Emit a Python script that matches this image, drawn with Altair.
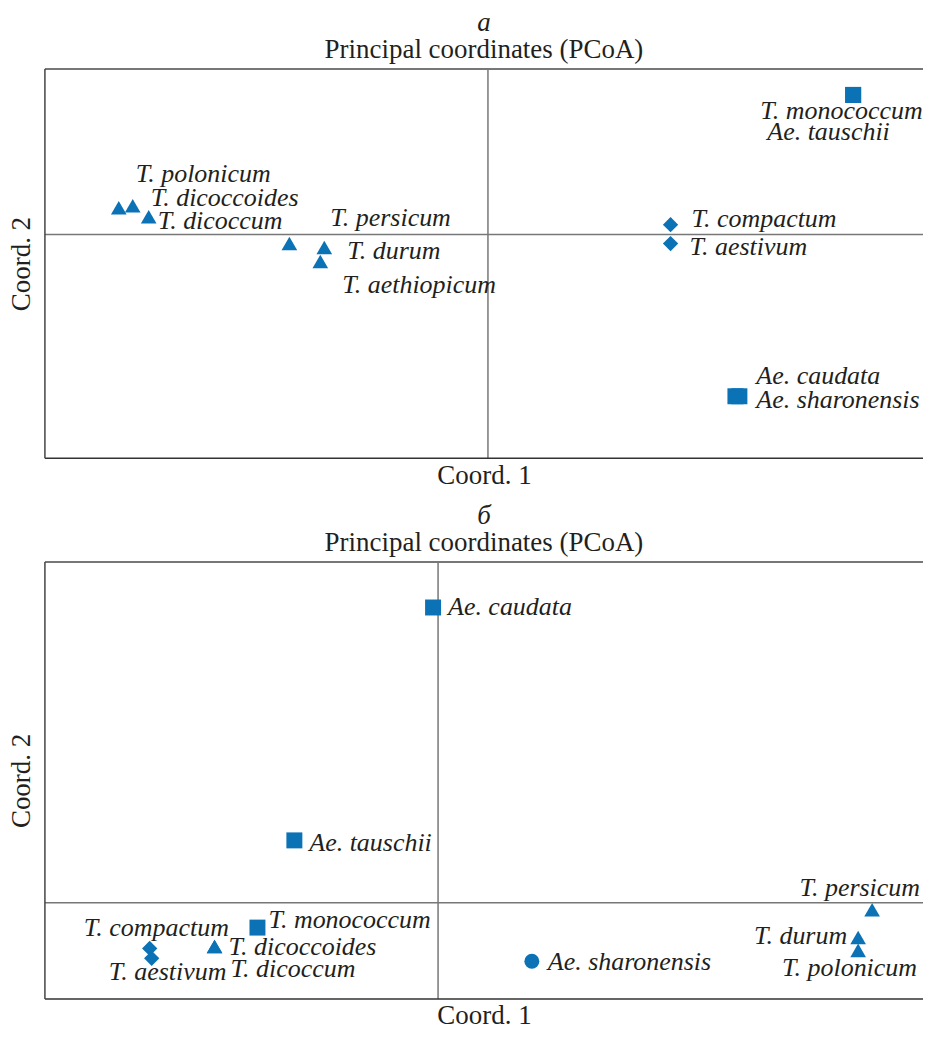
import altair as alt
import pandas as pd

BLUE = "#0b72b5"
TEXT = "#231f20"
FONT = "Liberation Serif"

# ---------------- Panel а ----------------
a_names = ["T. monococcum", "Ae. tauschii", "T. polonicum", "T. dicoccoides", "T. dicoccum",
           "T. persicum", "T. durum", "T. aethiopicum", "T. compactum", "T. aestivum",
           "Ae. caudata", "Ae. sharonensis"]
a_x = [0.366, 0.366, -0.370, -0.356, -0.340, -0.199, -0.164, -0.168, 0.183, 0.183, 0.248, 0.252]
a_y = [0.140, 0.140, 0.027, 0.029, 0.018, -0.009, -0.013, -0.027, 0.010, -0.009, -0.162, -0.162]
a_shape = ["square", "square", "triangle", "triangle", "triangle", "triangle", "triangle",
           "triangle", "diamond", "diamond", "square", "square"]

a_lab_text = ["T. monococcum", "Ae. tauschii", "T. polonicum", "T. dicoccoides", "T. dicoccum",
              "T. persicum", "T. durum", "T. aethiopicum", "T. compactum", "T. aestivum",
              "Ae. caudata", "Ae. sharonensis"]
a_lab_x = [0.273, 0.280, -0.353, -0.338, -0.331, -0.158, -0.141, -0.146, 0.204, 0.202, 0.269, 0.269]
a_lab_y = [0.124, 0.103, 0.061, 0.037, 0.014, 0.017, -0.016, -0.051, 0.016, -0.012, -0.142, -0.166]
a_lab_align = ["left"] * 12

a_xdom = [-0.444, 0.436]
a_ydom = [-0.224, 0.166]

# ---------------- Panel б ----------------
b_names = ["Ae. caudata", "Ae. tauschii", "T. monococcum", "T. compactum", "T. aestivum",
           "T. dicoccoides", "T. dicoccum", "Ae. sharonensis", "T. persicum", "T. durum",
           "T. polonicum"]
b_x = [-0.005, -0.144, -0.181, -0.289, -0.287, -0.224, -0.224, 0.094, 0.435, 0.421, 0.421]
b_y = [0.298, 0.063, -0.025, -0.046, -0.056, -0.044, -0.044, -0.059, -0.007, -0.035, -0.048]
b_shape = ["square", "square", "square", "diamond", "diamond", "triangle", "triangle",
           "circle", "triangle", "triangle", "triangle"]

b_lab_text = ["Ae. caudata", "Ae. tauschii", "T. monococcum", "T. compactum", "T. aestivum",
              "T. dicoccoides", "T. dicoccum", "Ae. sharonensis", "T. persicum", "T. durum",
              "T. polonicum"]
b_lab_x = [0.010, -0.129, -0.170, -0.355, -0.330, -0.210, -0.208, 0.110, 0.483, 0.410, 0.480]
b_lab_y = [0.298, 0.060, -0.017, -0.025, -0.070, -0.045, -0.067, -0.060, 0.015, -0.033, -0.066]
b_lab_align = ["left", "left", "left", "left", "left", "left", "left", "left",
               "right", "right", "right"]

b_xdom = [-0.394, 0.486]
b_ydom = [-0.097, 0.344]

SHAPE_DOMAIN = ["square", "triangle", "diamond", "circle"]
SHAPE_RANGE = ["square", "triangle-up", "diamond", "circle"]
SIZE_RANGE = [256, 225, 200, 225]


def xenc(field, dom):
    return alt.X(field, type="quantitative", title="Coord. 1",
                 scale=alt.Scale(domain=dom, nice=False, zero=False),
                 axis=alt.Axis(labels=False, ticks=False, domain=False, grid=False,
                               titleFont=FONT, titleFontSize=27, titleFontWeight="normal",
                               titleColor=TEXT, titlePadding=4))


def yenc(field, dom):
    return alt.Y(field, type="quantitative", title="Coord. 2",
                 scale=alt.Scale(domain=dom, nice=False, zero=False),
                 axis=alt.Axis(labels=False, ticks=False, domain=False, grid=False,
                               titleFont=FONT, titleFontSize=27, titleFontWeight="normal",
                               titleColor=TEXT, titlePadding=9))


def panel(letter, names, xs, ys, shapes, ltext, lx, ly, lalign, xdom, ydom, height):
    pts = pd.DataFrame({"name": names, "x": xs, "y": ys, "shape": shapes})
    labs = pd.DataFrame({"label": ltext, "lx": lx, "ly": ly, "align": lalign})
    zero = pd.DataFrame({"z": [0.0]})
    top = pd.DataFrame({"z": [ydom[1]]})
    bottom = pd.DataFrame({"z": [ydom[0]]})
    left = pd.DataFrame({"z": [xdom[0]]})

    vrule = alt.Chart(zero).mark_rule(color="#777777", strokeWidth=1.5).encode(
        x=xenc("z", xdom))
    hrule = alt.Chart(zero).mark_rule(color="#777777", strokeWidth=1.5).encode(
        y=yenc("z", ydom))
    top_rule = alt.Chart(top).mark_rule(color="#777777", strokeWidth=2).encode(
        y=yenc("z", ydom))
    bottom_rule = alt.Chart(bottom).mark_rule(color="#333333", strokeWidth=1.5).encode(
        y=yenc("z", ydom))
    left_rule = alt.Chart(left).mark_rule(color="#444444", strokeWidth=1.5).encode(
        x=xenc("z", xdom))

    points = alt.Chart(pts).mark_point(filled=True, opacity=1, strokeWidth=0, color=BLUE).encode(
        x=xenc("x", xdom),
        y=yenc("y", ydom),
        shape=alt.Shape("shape:N", scale=alt.Scale(domain=SHAPE_DOMAIN, range=SHAPE_RANGE), legend=None),
        size=alt.Size("shape:N", scale=alt.Scale(domain=SHAPE_DOMAIN, range=SIZE_RANGE), legend=None),
    )

    def text_layer(al):
        return alt.Chart(labs).transform_filter(alt.datum.align == al).mark_text(
            font=FONT, fontStyle="italic", fontSize=26, color=TEXT,
            align=al, baseline="middle").encode(
            x=xenc("lx", xdom), y=yenc("ly", ydom), text="label:N")

    layers = [vrule, hrule, top_rule, bottom_rule, left_rule, points, text_layer("left")]
    if "right" in lalign:
        layers.append(text_layer("right"))

    return alt.layer(*layers).properties(
        width=880, height=height,
        title=alt.TitleParams(
            text=letter, subtitle="Principal coordinates (PCoA)",
            font=FONT, fontSize=27, fontStyle="italic", fontWeight="normal", color=TEXT,
            subtitleFont=FONT, subtitleFontSize=27, subtitleFontStyle="normal",
            subtitleFontWeight="normal", subtitleColor=TEXT, subtitlePadding=0,
            anchor="middle", offset=4),
    )


pa = panel("а", a_names, a_x, a_y, a_shape, a_lab_text, a_lab_x, a_lab_y, a_lab_align,
           a_xdom, a_ydom, 390)
pb = panel("б", b_names, b_x, b_y, b_shape, b_lab_text, b_lab_x, b_lab_y, b_lab_align,
           b_xdom, b_ydom, 438)

chart = alt.vconcat(pa, pb, spacing=14).resolve_scale(
    x="independent", y="independent").properties(padding=0).configure_view(
    stroke=None)

chart.save("out.html", embed_options={"renderer": "svg", "actions": False})
